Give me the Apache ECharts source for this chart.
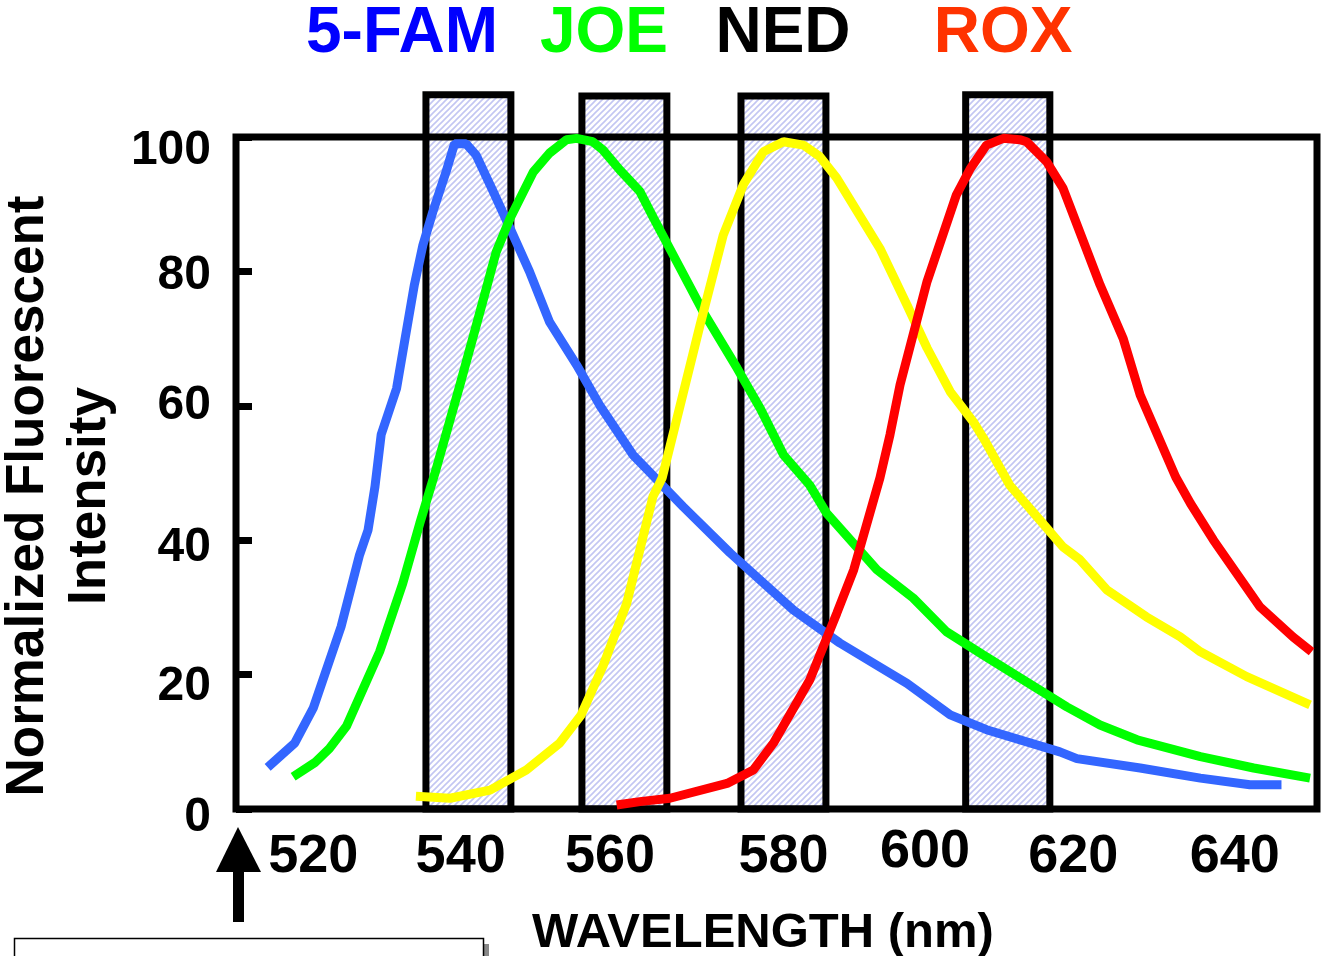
<!DOCTYPE html>
<html>
<head>
<meta charset="utf-8">
<title>Normalized Fluorescent Intensity</title>
<script src="https://cdn.jsdelivr.net/npm/echarts@6.0.0/dist/echarts.min.js"></script>
<style>
    html, body { margin: 0; padding: 0; background: #fff; }
    #myChart { width: 1321px; height: 956px; }
</style>
</head>
<body>
<div id="myChart"></div>
<script>
// 染料名称
var dyeNames = ['5-FAM', 'JOE', 'NED', 'ROX'];

// 发射光谱 (波长 nm, 归一化强度)
var famX = [514.1, 517.6, 520.0, 523.6, 526.0, 527.1, 528.0, 528.8, 530.8, 531.9, 533.1, 534.2, 535.5, 537.2, 538.3, 539.8, 541.1, 543.3, 545.5, 548.0, 550.6, 554.1, 557.1, 561.4, 567.9, 574.0, 582.2, 588.2, 596.9, 602.5, 607.2, 616.7, 618.9, 627.1, 634.9, 641.3, 645.4];
var famY = [6.2, 9.8, 15.0, 27.1, 37.8, 41.5, 48.0, 55.7, 62.6, 70.0, 78.0, 83.9, 88.9, 94.8, 99.0, 99.0, 97.3, 91.9, 86.4, 80.0, 72.5, 66.1, 60.1, 52.7, 45.0, 38.1, 29.6, 24.7, 18.7, 14.0, 11.8, 8.5, 7.5, 6.1, 4.6, 3.6, 3.6];

var joeX = [517.4, 520.2, 522.1, 524.3, 528.6, 531.6, 533.8, 535.9, 539.0, 541.6, 543.7, 545.5, 548.5, 550.6, 552.8, 554.1, 556.2, 557.5, 559.7, 562.3, 564.1, 567.1, 570.5, 574.9, 577.9, 580.9, 584.3, 586.5, 593.0, 597.7, 602.0, 606.8, 614.1, 617.6, 621.9, 626.7, 634.9, 641.8, 649.1];
var joeY = [4.8, 6.9, 9.0, 12.3, 23.4, 33.6, 42.5, 50.5, 63.1, 74.0, 82.9, 87.9, 94.8, 97.6, 99.6, 99.8, 99.3, 98.1, 95.1, 91.9, 87.9, 81.4, 74.0, 65.6, 59.6, 52.7, 48.2, 44.0, 35.6, 31.4, 26.4, 22.9, 17.7, 15.2, 12.5, 10.3, 7.8, 6.1, 4.6];

var nedX = [533.3, 537.7, 542.9, 547.6, 551.9, 554.7, 557.5, 560.6, 564.0, 565.2, 567.1, 570.1, 573.1, 575.7, 578.3, 580.9, 583.5, 585.6, 587.8, 593.4, 596.9, 599.5, 602.5, 605.5, 606.8, 610.2, 614.1, 617.1, 619.3, 622.8, 627.9, 632.3, 634.9, 640.9, 649.1];
var nedY = [1.9, 1.6, 2.8, 5.8, 9.8, 14.0, 21.2, 30.6, 46.5, 49.3, 58.1, 72.0, 85.4, 92.9, 97.8, 99.3, 98.8, 97.1, 93.9, 83.4, 75.0, 68.6, 62.1, 57.6, 55.2, 48.2, 43.0, 39.0, 37.1, 32.6, 28.6, 25.6, 23.4, 19.7, 15.5];

var roxX = [559.3, 562.3, 566.2, 573.6, 577.0, 579.6, 584.3, 587.8, 590.0, 593.4, 594.7, 596.0, 599.5, 603.3, 605.1, 607.2, 609.4, 611.5, 612.4, 615.0, 617.1, 621.9, 624.9, 627.1, 631.7, 633.6, 636.6, 642.6, 646.9, 649.3];
var roxY = [0.6, 1.1, 1.6, 3.8, 5.8, 9.8, 19.2, 29.1, 35.6, 49.3, 55.7, 63.1, 78.5, 91.4, 95.3, 98.8, 99.8, 99.6, 99.3, 96.3, 92.4, 78.0, 70.0, 61.6, 49.4, 45.5, 40.0, 30.1, 25.6, 23.4];

// 滤光片通带 (起止波长, 顶部高度)
var bandStart = [534.6, 554.8, 575.4, 604.5];
var bandEnd = [545.6, 565.8, 586.4, 615.4];
var bandTop = [106.3, 106.1, 106.1, 106.3];

// 刻度
var xTicks = [520, 540, 560, 580, 600, 620, 640];
var yTicks = [0, 20, 40, 60, 80, 100];

function zip(xs, ys) {
    return xs.map(function (x, i) { return [x, ys[i]]; });
}

// 斜线填充
function makeHatch() {
    var c = document.createElement('canvas');
    c.width = 6;
    c.height = 6;
    var ctx = c.getContext('2d');
    ctx.fillStyle = '#ffffff';
    ctx.fillRect(0, 0, 6, 6);
    ctx.strokeStyle = '#c3c6f2';
    ctx.lineWidth = 1.6;
    ctx.beginPath();
    ctx.moveTo(-1, 7); ctx.lineTo(7, -1);
    ctx.moveTo(-4, 4); ctx.lineTo(4, -4);
    ctx.moveTo(2, 10); ctx.lineTo(10, 2);
    ctx.stroke();
    return c;
}
var hatch = makeHatch();

var FONT = '"Liberation Sans", Arial, Helvetica, sans-serif';

// 原图刻度文字位置不规则, 用 rich 的 padding 微调 (px)
var xLabelShift = { 520: [0, 5], 540: [-7, 5], 560: [-12, 5], 580: [7, 5], 600: [-6, 0], 620: [-12, 5], 640: [-5, 5] };
var yLabelShift = { 0: 9, 20: 12, 40: 8, 60: 0, 80: 4, 100: 14 };

var xRich = {};
xTicks.forEach(function (v) {
    var s = xLabelShift[v];
    xRich['x' + v] = {
        fontSize: 54, fontWeight: 'bold', fontFamily: FONT, color: '#000',
        padding: [s[1], s[0] < 0 ? -2 * s[0] : 0, 0, s[0] > 0 ? 2 * s[0] : 0]
    };
});
var yRich = {};
yTicks.forEach(function (v) {
    yRich['y' + v] = {
        fontSize: 48, fontWeight: 'bold', fontFamily: FONT, color: '#000',
        padding: [2 * yLabelShift[v], 0, 0, 0]
    };
});

var bandData = bandStart.map(function (s, i) { return [s, bandEnd[i], bandTop[i]]; });

var lineColors = ['#3366ff', '#00ff00', '#ffff00', '#ff0000'];
var titleColors = ['#0000ff', '#00ff00', '#000000', '#ff3300'];
var titleX = [402, 604, 783, 1003];

var option = {
    animation: false,
    backgroundColor: '#ffffff',
    grid: {
        left: 236,
        right: 4,
        top: 137,
        bottom: 147,
        show: true,
        borderColor: '#000',
        borderWidth: 7,
        backgroundColor: 'transparent',
        z: 2
    },
    xAxis: {
        type: 'value',
        min: 510,
        max: 650,
        axisLine: { show: false },
        axisTick: { show: false },
        splitLine: { show: false },
        axisLabel: {
            customValues: xTicks,
            margin: 16,
            formatter: function (v) { return '{x' + v + '|' + v + '}'; },
            rich: xRich
        }
    },
    yAxis: {
        type: 'value',
        min: 0,
        max: 100,
        interval: 20,
        axisLine: { show: false },
        splitLine: { show: false },
        axisTick: {
            inside: true,
            length: 16,
            customValues: yTicks,
            lineStyle: { color: '#000', width: 7 }
        },
        axisLabel: {
            customValues: yTicks,
            margin: 25,
            formatter: function (v) { return '{y' + v + '|' + v + '}'; },
            rich: yRich
        }
    },
    graphic: [
        {
            type: 'text', x: 59, y: 496, rotation: Math.PI / 2,
            style: {
                text: 'Normalized Fluorescent\nIntensity',
                font: 'bold 53px ' + FONT,
                fill: '#000',
                align: 'center', verticalAlign: 'middle',
                textAlign: 'center', textVerticalAlign: 'middle',
                lineHeight: 62
            }
        },
        {
            type: 'text', x: 763, y: 933,
            style: {
                text: 'WAVELENGTH (nm)',
                font: 'bold 49px ' + FONT,
                fill: '#000',
                align: 'center', verticalAlign: 'middle',
                textAlign: 'center', textVerticalAlign: 'middle'
            }
        },
        // 箭头
        { type: 'polygon', shape: { points: [[238, 827], [216, 872], [261, 872]] }, style: { fill: '#000' } },
        { type: 'rect', shape: { x: 233, y: 870, width: 11, height: 52 }, style: { fill: '#000' } },
        // 下方方框
        { type: 'rect', shape: { x: 484, y: 944, width: 5, height: 20 }, style: { fill: '#888' } },
        { type: 'rect', shape: { x: 14.5, y: 938.5, width: 469, height: 40 }, style: { fill: '#fff', stroke: '#000', lineWidth: 1.5 } }
    ].concat(dyeNames.map(function (name, i) {
        return {
            type: 'text', x: titleX[i], y: 34,
            style: {
                text: name,
                font: 'bold 64px ' + FONT,
                fill: titleColors[i],
                align: 'center', verticalAlign: 'middle',
                textAlign: 'center', textVerticalAlign: 'middle'
            }
        };
    })),
    series: [
        {
            type: 'custom',
            z: 1,
            clip: false,
            data: bandData,
            encode: { x: [0, 1], y: 2 },
            renderItem: function (params, api) {
                var p0 = api.coord([api.value(0), 0]);
                var p1 = api.coord([api.value(1), api.value(2)]);
                return {
                    type: 'rect',
                    shape: { x: p0[0], y: p1[1], width: p1[0] - p0[0], height: p0[1] - p1[1] },
                    style: { fill: { image: hatch, repeat: 'repeat' }, stroke: '#000', lineWidth: 7 }
                };
            }
        }
    ].concat([[famX, famY], [joeX, joeY], [nedX, nedY], [roxX, roxY]].map(function (d, i) {
        return {
            name: dyeNames[i],
            type: 'line',
            z: 3,
            data: zip(d[0], d[1]),
            showSymbol: false,
            symbol: 'none',
            smooth: false,
            clip: false,
            lineStyle: { color: lineColors[i], width: 9 }
        };
    }))
};

var mainChart = echarts.init(document.getElementById('myChart'));
mainChart.setOption(option);
</script>
</body>
</html>
